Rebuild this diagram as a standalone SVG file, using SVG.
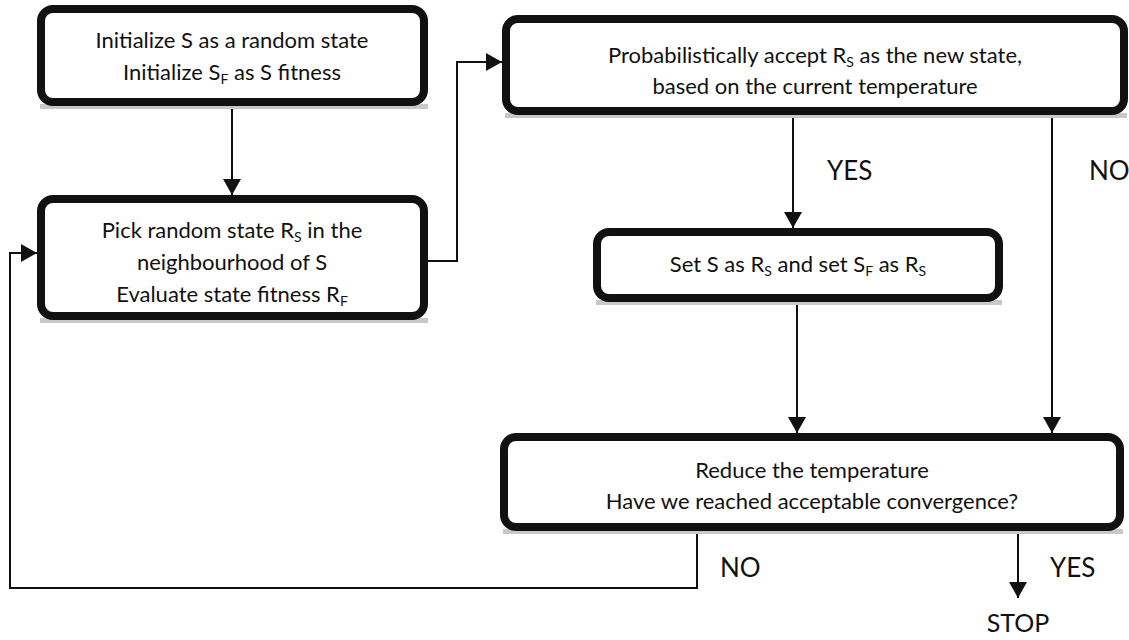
<svg xmlns="http://www.w3.org/2000/svg" width="1129" height="640" viewBox="0 0 1129 640">
<defs>
<style>
.box{fill:#fff;stroke:#111;stroke-width:8}
.shadow{fill:#c8c8c8}
.t{font-family:Lato,"Liberation Sans",sans-serif;font-size:22px;fill:#111;text-anchor:middle}
.sub{font-size:14px}
.lbl{font-family:Lato,"Liberation Sans",sans-serif;font-size:26px;fill:#111}
.c{fill:none;stroke:#111;stroke-width:2}
</style>
<marker id="ahb" markerWidth="16" markerHeight="18" refX="16" refY="9" orient="auto" markerUnits="userSpaceOnUse" viewBox="0 0 16 18">
<path d="M0,0 L16,9 L0,18 z" fill="#111"/>
</marker>
</defs>
<rect width="1129" height="640" fill="#fff"/>

<g id="connectors">
<path class="c" d="M232,106 V195" marker-end="url(#ahb)"/>
<path class="c" d="M428,261 H457 V62 H502" marker-end="url(#ahb)"/>
<path class="c" d="M793,115 V228" marker-end="url(#ahb)"/>
<path class="c" d="M797,302 V433" marker-end="url(#ahb)"/>
<path class="c" d="M1052,115 V433" marker-end="url(#ahb)"/>
<path class="c" d="M1018,531 V598" marker-end="url(#ahb)"/>
<path class="c" d="M697,531 V588 H10 V253 H37" marker-end="url(#ahb)"/>
</g>

<g id="node-init">
<rect class="shadow" x="40" y="104" width="388" height="5"/>
<rect class="box" x="41" y="9" width="383" height="93" rx="12"/>
<text class="t" x="232" y="48">Initialize S as a random state</text>
<text class="t" x="232" y="80">Initialize S<tspan class="sub" dy="4">F</tspan><tspan dy="-4"> as S fitness</tspan></text>
</g>

<g id="node-pick">
<rect class="shadow" x="40" y="318" width="388" height="5"/>
<rect class="box" x="41" y="199" width="383" height="117" rx="12"/>
<text class="t" x="232" y="238">Pick random state R<tspan class="sub" dy="4">S</tspan><tspan dy="-4"> in the</tspan></text>
<text class="t" x="232" y="270">neighbourhood of S</text>
<text class="t" x="232" y="302">Evaluate state fitness R<tspan class="sub" dy="4">F</tspan></text>
</g>

<g id="node-accept">
<rect class="shadow" x="505" y="113" width="622" height="5"/>
<rect class="box" x="506" y="19" width="618" height="92" rx="12"/>
<text class="t" x="815" y="63">Probabilistically accept R<tspan class="sub" dy="4">S</tspan><tspan dy="-4"> as the new state,</tspan></text>
<text class="t" x="815" y="94">based on the current temperature</text>
</g>

<g id="node-set">
<rect class="shadow" x="596" y="300" width="406" height="5"/>
<rect class="box" x="597" y="232" width="402" height="66" rx="12"/>
<text class="t" x="798" y="272">Set S as R<tspan class="sub" dy="4">S</tspan><tspan dy="-4"> and set S</tspan><tspan class="sub" dy="4">F</tspan><tspan dy="-4"> as R</tspan><tspan class="sub" dy="4">S</tspan></text>
</g>

<g id="node-reduce">
<rect class="shadow" x="503" y="529" width="620" height="5"/>
<rect class="box" x="504" y="437" width="616" height="90" rx="12"/>
<text class="t" x="812" y="478">Reduce the temperature</text>
<text class="t" x="812" y="509">Have we reached acceptable convergence?</text>
</g>

<g id="labels">
<text class="lbl" x="827" y="180">YES</text>
<text class="lbl" x="1089" y="180">NO</text>
<text class="lbl" x="720" y="577">NO</text>
<text class="lbl" x="1050" y="577">YES</text>
<text class="lbl" x="1018" y="632" text-anchor="middle" style="font-size:25px">STOP</text>
</g>
</svg>
